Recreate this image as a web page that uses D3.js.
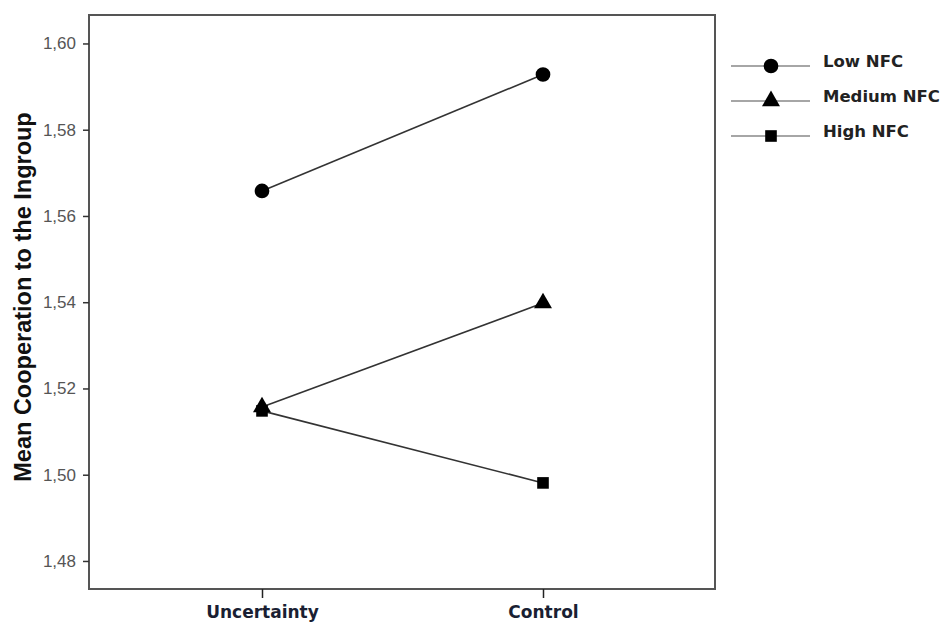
<!DOCTYPE html>
<html>
<head>
<meta charset="utf-8">
<script src="https://cdn.jsdelivr.net/npm/d3@7"></script>
<style>
  body { margin: 0; background: #fff; }
  svg { display: block; }
</style>
</head>
<body>
<script>
// chart values
const conditions = ["Uncertainty", "Control"];
const seriesNames = ["Low NFC", "Medium NFC", "High NFC"];
const lowNFC = [1.5658, 1.5928];
const mediumNFC = [1.5157, 1.5398];
const highNFC = [1.5148, 1.4981];
const yTicks = [1.48, 1.50, 1.52, 1.54, 1.56, 1.58, 1.60];

const series = [
  { name: seriesNames[0], values: lowNFC, symbol: d3.symbolCircle, size: 170 },
  { name: seriesNames[1], values: mediumNFC, symbol: d3.symbolTriangle, size: 140 },
  { name: seriesNames[2], values: highNFC, symbol: d3.symbolSquare, size: 135 }
];

const W = 946, H = 628;
const plot = { left: 89, right: 715, top: 15, bottom: 589 };

const svg = d3.select("body").append("svg")
  .attr("width", W)
  .attr("height", H);

// x uses point positions for the two conditions
const x = d3.scalePoint()
  .domain(conditions)
  .range([262, 543]);

const y = d3.scaleLinear()
  .domain([1.4735, 1.6066])
  .range([plot.bottom, plot.top]);

// frame
svg.append("rect")
  .attr("x", plot.left)
  .attr("y", plot.top)
  .attr("width", plot.right - plot.left)
  .attr("height", plot.bottom - plot.top)
  .attr("fill", "none")
  .attr("stroke", "#555")
  .attr("stroke-width", 2);

// y axis
const yAxis = svg.append("g")
  .attr("transform", "translate(" + plot.left + ",0)")
  .call(d3.axisLeft(y).tickValues(yTicks).tickSize(6).tickPadding(7)
    .tickFormat(d => d3.format(".2f")(d).replace(".", ",")));
yAxis.select(".domain").remove();
yAxis.selectAll("line").attr("stroke", "#333").attr("stroke-width", 1.5);
yAxis.selectAll("text")
  .attr("fill", "#555")
  .style("font-family", "Liberation Sans, Arial, sans-serif")
  .style("font-size", "17px");

// x axis
const xAxis = svg.append("g")
  .attr("transform", "translate(0," + plot.bottom + ")")
  .call(d3.axisBottom(x).tickSize(9).tickPadding(8));
xAxis.select(".domain").remove();
xAxis.selectAll("line").attr("stroke", "#222").attr("stroke-width", 1.5);
xAxis.selectAll("text")
  .attr("fill", "#1a1f33")
  .style("font-family", "DejaVu Sans, Verdana, sans-serif")
  .style("font-weight", "bold")
  .style("font-size", "17px");

// y axis title
svg.append("text")
  .attr("transform", "rotate(-90)")
  .attr("x", -297)
  .attr("y", 31)
  .attr("text-anchor", "middle")
  .style("font-family", "Liberation Sans, Arial, sans-serif")
  .style("font-weight", "bold")
  .style("font-size", "23.5px")
  .attr("fill", "#111")
  .text("Mean Cooperation to the Ingroup");

// lines
const line = d3.line()
  .x((d, i) => x(conditions[i]))
  .y(d => y(d));

svg.selectAll(".series")
  .data(series)
  .join("path")
  .attr("class", "series")
  .attr("d", d => line(d.values))
  .attr("fill", "none")
  .attr("stroke", "#333")
  .attr("stroke-width", 1.6);

// markers
series.forEach(s => {
  svg.selectAll(null)
    .data(s.values)
    .join("path")
    .attr("transform", (d, i) => "translate(" + x(conditions[i]) + "," + y(d) + ")")
    .attr("d", d3.symbol().type(s.symbol).size(s.size))
    .attr("fill", "#000");
});

// legend
const legend = svg.append("g").attr("transform", "translate(731,66)");
const rows = legend.selectAll("g")
  .data(series)
  .join("g")
  .attr("transform", (d, i) => "translate(0," + (i * 35) + ")");
rows.append("line")
  .attr("x1", 0).attr("x2", 79)
  .attr("y1", 0).attr("y2", 0)
  .attr("stroke", "#888")
  .attr("stroke-width", 1.5);
rows.append("path")
  .attr("transform", "translate(40,0)")
  .attr("d", d => d3.symbol().type(d.symbol).size(d.size)())
  .attr("fill", "#000");
rows.append("text")
  .attr("x", 92)
  .attr("y", 1)
  .style("font-family", "DejaVu Sans, Verdana, sans-serif")
  .style("font-weight", "bold")
  .style("font-size", "16.5px")
  .attr("fill", "#222")
  .text(d => d.name);
</script>
</body>
</html>
